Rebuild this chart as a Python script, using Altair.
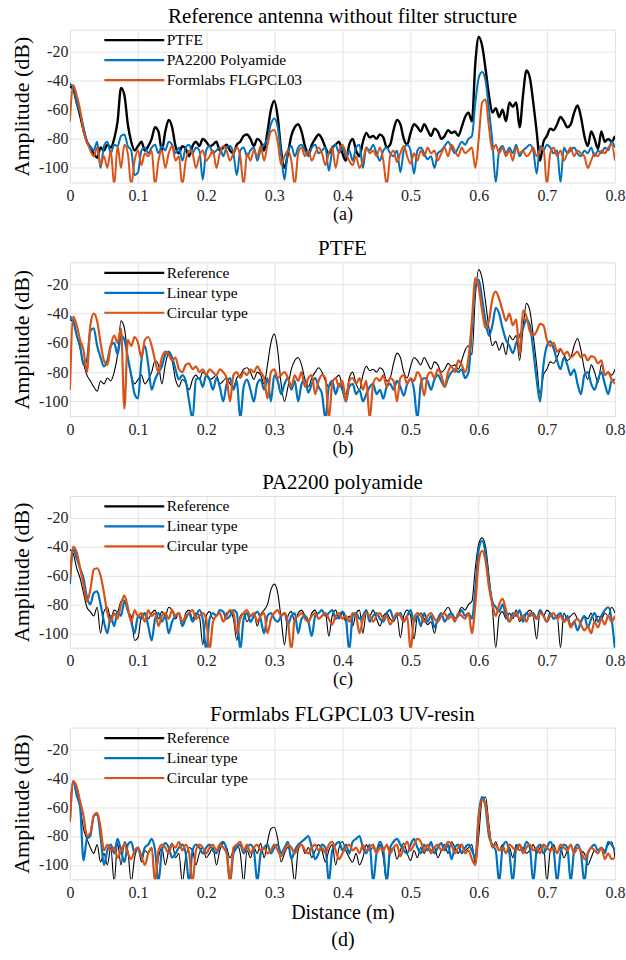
import altair as alt
import pandas as pd

# sampling grid of the distance axis (m)
DIST = [round(i * 0.005, 3) for i in range(161)]
X_TICKS = [0, 0.1, 0.2, 0.3, 0.4, 0.5, 0.6, 0.7, 0.8]
Y_TICKS = [-100, -80, -60, -40, -20]

# ---- reference antennas (no filter) ----
PTFE_REF = [
    -44, -46, -55, -64, -74, -82, -86, -90, -93, -86,
    -88, -84, -86, -80, -68, -45, -50, -70, -82, -88,
    -85, -82, -88, -85, -80, -72, -75, -88, -75, -67,
    -72, -85, -90, -85, -87, -92, -85, -82, -85, -80,
    -82, -85, -84, -82, -88, -86, -84, -88, -90, -84,
    -82, -78, -77, -80, -85, -80, -82, -88, -75, -60,
    -54, -65, -88, -100, -90, -78, -72, -70, -75, -85,
    -90, -84, -80, -77, -80, -86, -90, -86, -84, -82,
    -90, -95, -84, -80, -88, -92, -82, -76, -79, -78,
    -80, -77, -79, -86, -84, -74, -67, -70, -80, -84,
    -76, -70, -72, -75, -70, -74, -78, -73, -75, -80,
    -78, -74, -76, -75, -78, -72, -65, -62, -68, -28,
    -10, -16, -32, -50, -62, -59, -65, -60, -68, -55,
    -58, -55, -72, -50, -33, -38, -55, -75, -95, -82,
    -78, -73, -74, -70, -65, -68, -72, -70, -62, -57,
    -65, -78, -85, -75, -80, -87, -75, -82, -80, -82,
    -78,
]
PA_REF = [
    -42, -45, -55, -62, -72, -82, -85, -88, -82, -100,
    -85, -82, -90, -84, -85, -78, -77, -85, -88, -105,
    -103, -88, -86, -90, -86, -84, -90, -85, -88, -82,
    -84, -90, -86, -95, -86, -84, -90, -86, -88, -108,
    -88, -85, -90, -88, -86, -92, -86, -85, -90, -105,
    -88, -86, -92, -88, -86, -95, -87, -84, -80, -70,
    -66, -72, -90, -108, -88, -85, -92, -86, -84, -88,
    -92, -86, -84, -90, -88, -86, -102, -88, -84, -90,
    -86, -92, -88, -95, -86, -84, -100, -86, -88, -84,
    -90, -95, -88, -86, -90, -92, -88, -103, -88, -84,
    -88, -104, -88, -86, -90, -94, -92, -100, -90, -88,
    -85, -82, -86, -90, -86, -82, -84, -80, -78, -55,
    -38, -34, -40, -60, -82, -110, -88, -85, -90, -86,
    -90, -84, -92, -88, -86, -84, -88, -104, -85, -88,
    -84, -86, -90, -88, -110, -86, -90, -88, -86, -90,
    -92, -88, -90, -86, -92, -88, -90, -86, -88, -82,
    -86,
]
FORM_REF = [
    -68, -43, -50, -60, -75, -82, -88, -92, -86, -98,
    -92, -100, -88, -112, -85, -100, -84, -90, -112, -95,
    -88, -98, -90, -92, -88, -112, -95, -88, -100, -90,
    -85, -95, -92, -112, -95, -88, -90, -100, -92, -88,
    -95, -92, -88, -100, -90, -85, -88, -95, -90, -86,
    -92, -112, -90, -95, -88, -92, -85, -95, -84, -75,
    -74, -82, -98, -92, -88, -95, -112, -90, -86, -92,
    -88, -95, -90, -86, -90, -98, -90, -86, -100, -88,
    -84, -90, -95, -98, -92, -100, -95, -86, -90, -88,
    -92, -86, -95, -112, -92, -88, -96, -90, -85, -92,
    -97, -90, -95, -88, -92, -86, -90, -88, -95, -90,
    -86, -92, -84, -88, -92, -86, -90, -88, -86, -100,
    -80, -55, -53, -72, -88, -84, -90, -86, -92, -88,
    -95, -86, -90, -88, -92, -90, -86, -92, -88, -86,
    -112, -90, -86, -92, -88, -95, -90, -86, -92, -88,
    -90, -92, -100, -95, -90, -92, -88, -90, -86, -84,
    -95,
]

# ---- PTFE filters ----
PTFE_LIN = [
    -42, -45, -55, -62, -75, -72, -52, -50, -62, -70,
    -76, -72, -62, -60, -68, -55, -58, -70, -82, -95,
    -98, -72, -62, -75, -92, -85, -80, -76, -68, -66,
    -70, -78, -85, -82, -86, -100, -112, -85, -84, -90,
    -82, -85, -92, -84, -90, -100, -88, -84, -92, -86,
    -112, -90, -85, -92, -100, -88, -85, -92, -84, -100,
    -82, -86, -95, -88, -84, -92, -86, -100, -88, -85,
    -94, -88, -84, -90, -95, -112, -90, -86, -95, -88,
    -92, -100, -90, -88, -95, -92, -100, -95, -90, -88,
    -95, -92, -98, -90, -88, -92, -86, -90, -96, -88,
    -85, -92, -112, -88, -84, -86, -92, -85, -82, -86,
    -90, -84, -80, -78, -80, -78, -84, -80, -50, -22,
    -17, -30, -45, -55, -48, -36, -40, -50, -58, -62,
    -67, -60, -55, -50, -44, -48, -65, -85, -100, -75,
    -62, -59, -64, -72, -78, -70, -75, -82, -78, -88,
    -95, -82, -80, -88, -92, -85, -80, -88, -95, -86,
    -85,
]
PTFE_CIR = [
    -92, -42, -48, -58, -65, -80, -48, -40, -45, -60,
    -72, -75, -62, -55, -60, -50, -105, -58, -62, -56,
    -60, -70, -58, -56, -62, -72, -80, -70, -66, -68,
    -72, -70, -78, -80, -75, -74, -78, -76, -80, -78,
    -82, -78, -80, -82, -78, -80, -84, -100, -82, -80,
    -84, -80, -82, -78, -80, -76, -80, -84, -98, -80,
    -78, -84, -82, -80, -84, -90, -82, -86, -80, -90,
    -84, -82, -95, -86, -82, -84, -112, -88, -84, -90,
    -86, -100, -86, -84, -88, -84, -92, -86, -112, -88,
    -84, -86, -82, -90, -84, -86, -100, -84, -82, -88,
    -84, -86, -80, -84, -96, -82, -80, -84, -78, -82,
    -90, -80, -76, -80, -72, -75, -80, -70, -45, -16,
    -22, -38, -50, -45, -30, -25, -30, -38, -45, -40,
    -48, -44, -68, -38, -42, -52, -55, -52, -47, -48,
    -58, -62, -60, -66, -64, -68, -66, -70, -68, -66,
    -70, -68, -72, -69, -70, -74, -72, -82, -80, -85,
    -88,
]

# ---- PA2200 polyamide filters ----
PA_LIN = [
    -66, -42, -48, -55, -62, -75, -80, -72, -71, -80,
    -92, -100, -88, -95, -85, -88, -78, -84, -92, -100,
    -88, -90, -86, -95, -105, -90, -86, -92, -88, -100,
    -92, -88, -86, -95, -90, -86, -92, -88, -84, -90,
    -112, -90, -86, -88, -84, -85, -90, -88, -84, -86,
    -112, -90, -86, -92, -88, -85, -90, -100, -88, -86,
    -90, -92, -88, -86, -94, -88, -86, -100, -90, -88,
    -92, -102, -88, -86, -84, -88, -86, -84, -90, -88,
    -85, -90, -112, -88, -86, -90, -88, -84, -92, -88,
    -86, -90, -92, -86, -84, -90, -88, -86, -92, -88,
    -84, -92, -88, -95, -86, -92, -88, -96, -90, -86,
    -92, -88, -86, -90, -88, -84, -88, -86, -90, -70,
    -42, -36, -45, -65, -78, -82, -85, -80, -88, -92,
    -86, -88, -84, -92, -86, -88, -86, -90, -84, -88,
    -92, -86, -90, -88, -86, -92, -88, -95, -92, -98,
    -92, -88, -96, -90, -86, -92, -88, -84, -82, -90,
    -112,
]
PA_CIR = [
    -62, -40, -44, -55, -66, -78, -70, -56, -55, -60,
    -72, -86, -92, -86, -90, -80, -74, -82, -92, -84,
    -88, -86, -92, -84, -88, -86, -95, -88, -86, -90,
    -84, -88, -86, -92, -88, -86, -84, -90, -88, -86,
    -90, -112, -92, -88, -86, -92, -88, -84, -86, -100,
    -90, -86, -84, -88, -86, -92, -88, -86, -100, -90,
    -86, -84, -88, -86, -92, -112, -90, -88, -86, -90,
    -92, -88, -86, -90, -88, -86, -90, -94, -88, -86,
    -90, -88, -92, -86, -88, -100, -90, -86, -88, -92,
    -88, -86, -90, -88, -94, -90, -86, -88, -92, -88,
    -112, -90, -86, -88, -92, -88, -86, -90, -92, -88,
    -86, -90, -88, -92, -86, -88, -90, -86, -100, -80,
    -50, -43, -50, -68, -80, -88, -80, -76, -84, -92,
    -88, -86, -90, -88, -92, -86, -88, -90, -86, -88,
    -92, -88, -86, -90, -88, -92, -90, -96, -92, -90,
    -94, -98, -95, -100, -92, -96, -90, -94, -88, -92,
    -88,
]

# ---- Formlabs FLGPCL03 UV-resin filters ----
FORM_LIN = [
    -70, -42, -52, -60, -97, -82, -80, -66, -65, -80,
    -100, -90, -86, -92, -82, -90, -98, -86, -84, -92,
    -88, -95, -88, -86, -82, -90, -112, -90, -85, -88,
    -95, -92, -88, -86, -92, -112, -90, -86, -88, -92,
    -88, -86, -90, -92, -86, -84, -90, -112, -92, -88,
    -86, -92, -88, -86, -90, -112, -92, -88, -86, -92,
    -88, -86, -92, -88, -84, -96, -90, -86, -84, -82,
    -80, -88, -96, -92, -86, -88, -112, -90, -86, -84,
    -90, -86, -92, -84, -82, -80, -88, -92, -86, -112,
    -92, -84, -90, -112, -88, -84, -82, -86, -90, -92,
    -86, -82, -88, -92, -86, -90, -84, -92, -88, -85,
    -90, -86, -96, -88, -86, -92, -88, -86, -90, -95,
    -65, -53, -60, -80, -86, -90, -112, -88, -84, -92,
    -112, -88, -86, -90, -84, -88, -112, -90, -86, -92,
    -88, -84, -90, -112, -92, -86, -88, -112, -90, -86,
    -92, -112, -92, -88, -86, -90, -88, -92, -84, -86,
    -90,
]
FORM_CIR = [
    -70, -42, -46, -56, -66, -80, -78, -66, -64, -74,
    -90, -86, -90, -88, -95, -90, -86, -92, -96, -90,
    -88, -94, -100, -92, -88, -112, -90, -86, -88, -92,
    -86, -88, -84, -90, -86, -92, -112, -90, -86, -88,
    -92, -88, -86, -90, -86, -88, -92, -112, -88, -86,
    -84, -90, -86, -92, -88, -86, -90, -88, -92, -90,
    -86, -90, -94, -90, -86, -88, -92, -88, -86, -90,
    -92, -88, -86, -90, -88, -92, -86, -84, -90, -96,
    -92, -88, -86, -90, -88, -92, -86, -90, -88, -86,
    -92, -88, -90, -86, -92, -88, -86, -94, -88, -84,
    -90, -86, -82, -84, -90, -86, -92, -88, -86, -90,
    -88, -84, -86, -92, -88, -86, -92, -90, -96, -100,
    -68, -55, -58, -76, -88, -86, -90, -88, -92, -86,
    -88, -90, -86, -92, -88, -86, -90, -88, -92, -86,
    -88, -90, -88, -92, -86, -88, -90, -86, -92, -88,
    -90, -96, -92, -88, -90, -92, -88, -96, -92, -96,
    -95,
]

for _name, _arr in [("PTFE_REF", PTFE_REF), ("PA_REF", PA_REF), ("FORM_REF", FORM_REF),
                    ("PTFE_LIN", PTFE_LIN), ("PTFE_CIR", PTFE_CIR), ("PA_LIN", PA_LIN),
                    ("PA_CIR", PA_CIR), ("FORM_LIN", FORM_LIN), ("FORM_CIR", FORM_CIR)]:
    assert len(_arr) == len(DIST), (_name, len(_arr))

COLORS = ["#000000", "#0072BD", "#D95319"]
FONT = "Liberation Serif"

PANELS = [
    ("Reference antenna without filter structure",
     ["PTFE", "PA2200 Polyamide", "Formlabs FLGPCL03"],
     [PTFE_REF, PA_REF, FORM_REF], [2.4, 2.0, 2.0], "(a)", 153),
    ("PTFE", ["Reference", "Linear type", "Circular type"],
     [PTFE_REF, PTFE_LIN, PTFE_CIR], [1.1, 2.2, 2.2], "(b)", 154),
    ("PA2200 polyamide", ["Reference", "Linear type", "Circular type"],
     [PA_REF, PA_LIN, PA_CIR], [1.1, 2.2, 2.2], "(c)", 152),
    ("Formlabs FLGPCL03 UV-resin", ["Reference", "Linear type", "Circular type"],
     [FORM_REF, FORM_LIN, FORM_CIR], [1.1, 2.2, 2.2], ["Distance (m)", "(d)"], 152),
]


def make_panel(title, names, series, widths, caption, height):
    rows = []
    for name, vals in zip(names, series):
        for d, v in zip(DIST, vals):
            rows.append({"d": d, "v": v, "s": name})
    df = pd.DataFrame(rows)
    last = isinstance(caption, list)
    x_axis = alt.Axis(values=X_TICKS, labelExpr="'' + datum.value", title=caption, grid=True,
                      gridColor="#e3e3e3", domain=False, ticks=False, labelFlush=False,
                      labelFont=FONT, labelFontSize=16, labelColor="#262626",
                      labelPadding=5, titleFont=FONT,
                      titleFontSize=20 if last else 18, titleFontWeight="normal",
                      titleColor="#000000", titlePadding=2,
                      titleLineHeight=27)
    y_axis = alt.Axis(values=Y_TICKS, labelExpr="'' + datum.value", title="Amplitude (dB)",
                      grid=True, gridColor="#e3e3e3", domain=False, ticks=False,
                      labelFont=FONT, labelFontSize=16, labelColor="#262626",
                      labelPadding=2, titleFont=FONT, titleFontSize=22,
                      titleFontWeight="normal", titleColor="#000000", titlePadding=5)
    legend = alt.Legend(title=None, orient="none", legendX=53, legendY=-1,
                        symbolType="M-3,0H3", symbolSize=400, symbolStrokeWidth=2.2,
                        labelFont=FONT, labelFontSize=15.5, labelColor="#000000",
                        labelOffset=21, rowPadding=0, padding=0)
    base = alt.Chart(df)
    layers = []
    for name, w in zip(names, widths):
        layers.append(
            base.transform_filter(alt.datum.s == name)
            .mark_line(clip=True, strokeWidth=w, strokeJoin="round", interpolate="monotone")
            .encode(
                x=alt.X("d:Q", scale=alt.Scale(domain=[0, 0.8], nice=False, zero=False), axis=x_axis),
                y=alt.Y("v:Q", scale=alt.Scale(domain=[-110, -5], nice=False, zero=False), axis=y_axis),
                color=alt.Color("s:N", scale=alt.Scale(domain=names, range=COLORS), legend=legend),
            )
        )
    return alt.layer(*layers).resolve_scale(color="shared").properties(
        width=546, height=height,
        title=alt.Title(title, font=FONT, fontSize=21, fontWeight="normal",
                        color="#000000", anchor="middle", frame="group", offset=2),
    )


charts = [make_panel(*p) for p in PANELS]

chart = (
    alt.vconcat(*charts, spacing=80, bounds="flush")
    .resolve_scale(color="independent")
    .properties(padding={"left": 10, "top": 4, "right": 0, "bottom": 0})
    .configure_view(stroke="#8c8c8c", strokeWidth=1)
    .configure_axis(labelFont=FONT, titleFont=FONT)
    .configure_legend(labelFont=FONT)
    .configure_title(font=FONT)
    .configure(background="white", font=FONT)
)

chart.save("out.html", embed_options={"renderer": "svg", "actions": False})
